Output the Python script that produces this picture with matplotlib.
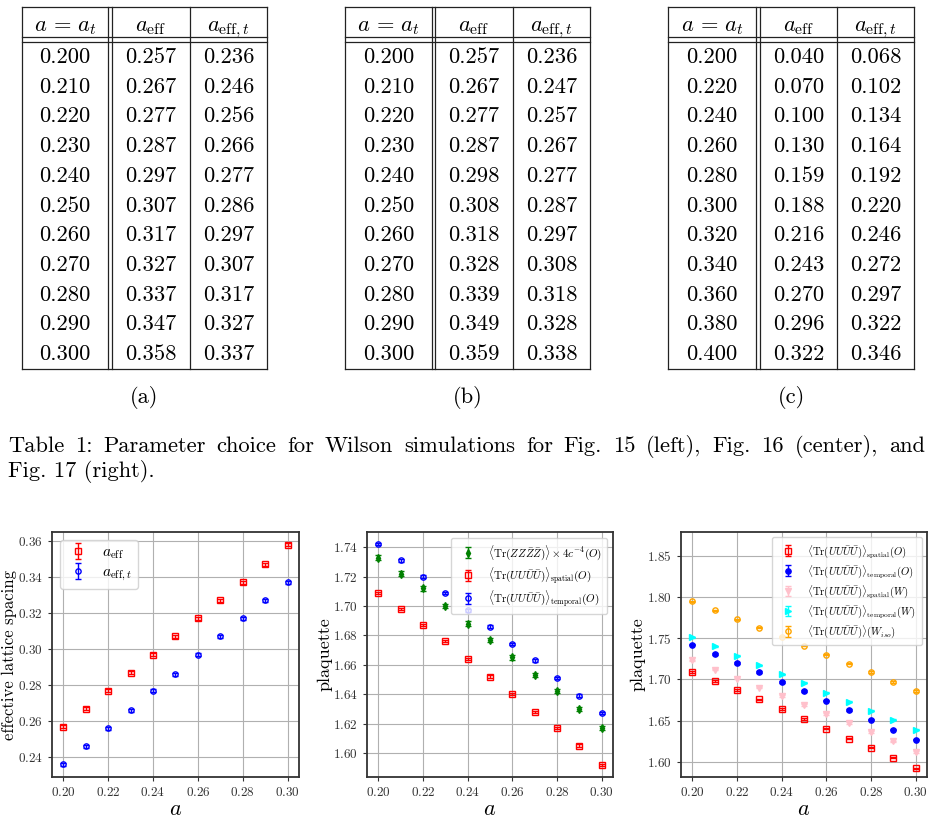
import matplotlib
matplotlib.use("Agg")
import matplotlib.pyplot as plt
from matplotlib.lines import Line2D

plt.rcParams['font.family'] = 'serif'
plt.rcParams['font.serif'] = ['cmr10']
plt.rcParams['mathtext.fontset'] = 'cm'
plt.rcParams['axes.formatter.use_mathtext'] = True

# --- table data ---
tab_a_a = ["0.200", "0.210", "0.220", "0.230", "0.240", "0.250", "0.260", "0.270", "0.280", "0.290", "0.300"]
tab_a_eff = ["0.257", "0.267", "0.277", "0.287", "0.297", "0.307", "0.317", "0.327", "0.337", "0.347", "0.358"]
tab_a_efft = ["0.236", "0.246", "0.256", "0.266", "0.277", "0.286", "0.297", "0.307", "0.317", "0.327", "0.337"]

tab_b_a = ["0.200", "0.210", "0.220", "0.230", "0.240", "0.250", "0.260", "0.270", "0.280", "0.290", "0.300"]
tab_b_eff = ["0.257", "0.267", "0.277", "0.287", "0.298", "0.308", "0.318", "0.328", "0.339", "0.349", "0.359"]
tab_b_efft = ["0.236", "0.247", "0.257", "0.267", "0.277", "0.287", "0.297", "0.308", "0.318", "0.328", "0.338"]

tab_c_a = ["0.200", "0.220", "0.240", "0.260", "0.280", "0.300", "0.320", "0.340", "0.360", "0.380", "0.400"]
tab_c_eff = ["0.040", "0.070", "0.100", "0.130", "0.159", "0.188", "0.216", "0.243", "0.270", "0.296", "0.322"]
tab_c_efft = ["0.068", "0.102", "0.134", "0.164", "0.192", "0.220", "0.246", "0.272", "0.297", "0.322", "0.346"]

headers = [r"$a\,=\,a_t$", r"$a_{\rm eff}$", r"$a_{{\rm eff},t}$"]
sublabels = ["(a)", "(b)", "(c)"]
caption1 = "Table 1: Parameter choice for Wilson simulations for Fig. 15 (left), Fig. 16 (center), and"
caption2 = "Fig. 17 (right)."

# --- plot data ---
a = [0.20, 0.21, 0.22, 0.23, 0.24, 0.25, 0.26, 0.27, 0.28, 0.29, 0.30]
a_eff = [0.257, 0.267, 0.277, 0.287, 0.297, 0.307, 0.317, 0.327, 0.337, 0.347, 0.358]
a_eff_t = [0.236, 0.246, 0.256, 0.266, 0.277, 0.286, 0.297, 0.307, 0.317, 0.327, 0.337]
a_err = [0.0008] * 11

zz = [1.733, 1.722, 1.712, 1.700, 1.688, 1.677, 1.665, 1.653, 1.642, 1.630, 1.617]
zz_err = [0.0015] * 11
spatial_O = [1.709, 1.698, 1.687, 1.676, 1.664, 1.652, 1.640, 1.628, 1.617, 1.605, 1.592]
temporal_O = [1.742, 1.731, 1.720, 1.709, 1.697, 1.686, 1.674, 1.663, 1.651, 1.639, 1.627]
spatial_W = [1.723, 1.712, 1.701, 1.690, 1.680, 1.669, 1.658, 1.647, 1.636, 1.625, 1.612]
temporal_W = [1.751, 1.740, 1.729, 1.717, 1.706, 1.696, 1.684, 1.673, 1.662, 1.651, 1.639]
iso_W = [1.795, 1.784, 1.773, 1.763, 1.752, 1.741, 1.730, 1.719, 1.709, 1.697, 1.686]
pl_err = [0.0008] * 11

W, H = 935, 839
fig = plt.figure(figsize=(W / 100, H / 100), dpi=100)

# full-figure overlay in pixel coordinates for tables and captions
bg = fig.add_axes([0, 0, 1, 1])
bg.set_xlim(0, W)
bg.set_ylim(H, 0)
bg.axis('off')

tables = [
    (tab_a_a, tab_a_eff, tab_a_efft, [22, 108, 112, 190, 267]),
    (tab_b_a, tab_b_eff, tab_b_efft, [345, 432, 435, 513, 590]),
    (tab_c_a, tab_c_eff, tab_c_efft, [668, 756, 760, 837, 914]),
]
top, hb1, hb2, bottom = 7, 37, 42, 369
row0, drow = 63, 29.7
fs_tab = 16.2
lc = '#222222'
lw = 0.9
for (c1, c2, c3, xs), sub in zip(tables, sublabels):
    left, d1, d2, sep, right = xs
    for y in [top, hb1, hb2, bottom]:
        bg.add_line(Line2D([left, right], [y, y], color=lc, lw=lw))
    for x in xs:
        bg.add_line(Line2D([x, x], [top, bottom], color=lc, lw=lw))
    centers = [(left + d1) / 2, (d2 + sep) / 2, (sep + right) / 2]
    for cx, h in zip(centers, headers):
        bg.text(cx, 31, h, ha='center', va='baseline', fontsize=fs_tab)
    for i, vals in enumerate(zip(c1, c2, c3)):
        for cx, v in zip(centers, vals):
            bg.text(cx, row0 + drow * i, v, ha='center', va='baseline', fontsize=fs_tab)
    bg.text((left + right) / 2, 403, sub, ha='center', va='baseline', fontsize=fs_tab)

# justified first caption line
renderer = fig.canvas.get_renderer()
words = caption1.split(" ")
wtexts = [bg.text(0, 452, w, ha='left', va='baseline', fontsize=fs_tab) for w in words]
widths = [t.get_window_extent(renderer).width for t in wtexts]
x_start, x_end = 8, 925
gap = (x_end - x_start - sum(widths)) / (len(words) - 1)
x = x_start
for t, w in zip(wtexts, widths):
    t.set_x(x)
    x += w + gap
bg.text(8, 477, caption2, ha='left', va='baseline', fontsize=fs_tab)


def make_ax(x0, x1, y0, y1):
    ax = fig.add_axes([x0 / W, 1 - y1 / H, (x1 - x0) / W, (y1 - y0) / H])
    ax.grid(True, color='#b0b0b0', lw=0.8)
    ax.set_axisbelow(True)
    for s in ax.spines.values():
        s.set_color('#333333')
        s.set_linewidth(1.3)
    ax.tick_params(labelsize=9.5, colors='#333333', length=3)
    ax.set_xticks([0.20, 0.22, 0.24, 0.26, 0.28, 0.30])
    ax.set_xlabel(r"$a$", fontsize=16, labelpad=0)
    return ax


eb = dict(ms=3.8, capsize=2, elinewidth=1, capthick=1, ls='none')

# left: effective lattice spacing
ax1 = make_ax(52, 299, 532, 777)
ax1.errorbar(a, a_eff, yerr=a_err, fmt='s', color='red', mfc='none', label=r"$a_{\rm eff}$", **eb)
ax1.errorbar(a, a_eff_t, yerr=a_err, fmt='o', color='blue', mfc='none', label=r"$a_{{\rm eff},t}$", **eb)
ax1.set_yticks([0.24, 0.26, 0.28, 0.30, 0.32, 0.34, 0.36])
ax1.set_ylabel("effective lattice spacing", fontsize=12)
ax1.yaxis.set_label_coords(-0.14, 0.5)
ax1.legend(loc='upper left', fontsize=11, borderpad=0.4, labelspacing=0.3, handlelength=1.6)

lbl_zz = r"$\langle \mathrm{Tr}(ZZ\bar{Z}\bar{Z})\rangle \times 4c^{-4}(O)$"
lbl_sO = r"$\langle \mathrm{Tr}(UU\bar{U}\bar{U})\rangle_{\mathrm{spatial}}(O)$"
lbl_tO = r"$\langle \mathrm{Tr}(UU\bar{U}\bar{U})\rangle_{\mathrm{temporal}}(O)$"
lbl_sW = r"$\langle \mathrm{Tr}(UU\bar{U}\bar{U})\rangle_{\mathrm{spatial}}(W)$"
lbl_tW = r"$\langle \mathrm{Tr}(UU\bar{U}\bar{U})\rangle_{\mathrm{temporal}}(W)$"
lbl_iso = r"$\langle \mathrm{Tr}(UU\bar{U}\bar{U})\rangle(W_{iso})$"

# middle: plaquette
ax2 = make_ax(367, 613, 532, 777)
ax2.errorbar(a, zz, yerr=zz_err, fmt='d', color='green', label=lbl_zz, **eb)
ax2.errorbar(a, spatial_O, yerr=pl_err, fmt='s', color='red', mfc='none', label=lbl_sO, **eb)
ax2.errorbar(a, temporal_O, yerr=pl_err, fmt='o', color='blue', mfc='none', label=lbl_tO, **eb)
ax2.set_yticks([1.60, 1.62, 1.64, 1.66, 1.68, 1.70, 1.72, 1.74])
ax2.set_ylabel("plaquette", fontsize=13)
ax2.yaxis.set_label_coords(-0.14, 0.5)
ax2.legend(loc='upper right', fontsize=8, borderpad=0.5, labelspacing=0.3)

# right: plaquette, several definitions
ax3 = make_ax(681, 927, 532, 777)
ax3.errorbar(a, spatial_O, yerr=pl_err, fmt='s', color='red', mfc='none', label=lbl_sO, **eb)
ax3.errorbar(a, temporal_O, yerr=pl_err, fmt='o', color='blue', label=lbl_tO, **eb)
ax3.errorbar(a, spatial_W, yerr=pl_err, fmt='v', color='pink', label=lbl_sW, **eb)
ax3.errorbar(a, temporal_W, yerr=pl_err, fmt='>', color='cyan', label=lbl_tW, **eb)
ax3.errorbar(a, iso_W, yerr=pl_err, fmt='o', color='orange', mfc='none', label=lbl_iso, **eb)
ax3.set_ylim(1.5815, 1.879)
ax3.set_yticks([1.60, 1.65, 1.70, 1.75, 1.80, 1.85])
ax3.set_ylabel("plaquette", fontsize=13)
ax3.yaxis.set_label_coords(-0.145, 0.5)
ax3.legend(loc='upper right', fontsize=7.7, borderpad=0.5, labelspacing=0.3)

fig.savefig("out.png", dpi=100)
